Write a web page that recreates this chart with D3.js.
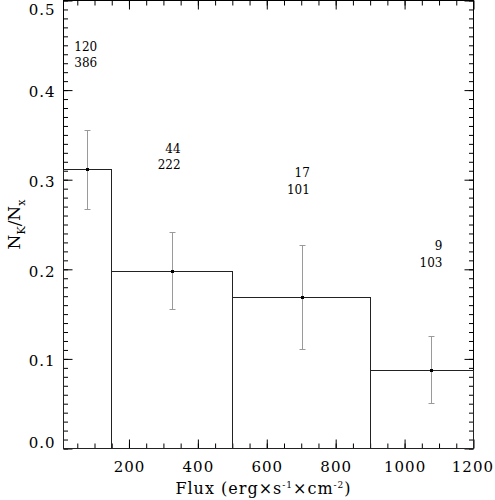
<!DOCTYPE html>
<html>
<head>
<meta charset="utf-8">
<script src="https://cdn.jsdelivr.net/npm/d3@7"></script>
<style>
  body { margin: 0; background: #fff; }
  svg { display: block; }
  .axis text { font-family: "DejaVu Serif", serif; font-size: 15px; letter-spacing: 1px; fill: #000; }
  .axis line { stroke: #000; }
  .axis path { display: none; }
  .lbl { font-family: "DejaVu Serif", serif; fill: #000; }
  .ann { font-family: "DejaVu Serif", serif; font-size: 12px; fill: #000; }
</style>
</head>
<body>
<svg id="chart" width="495" height="500"></svg>
<script>
// histogram bins (flux edges) and fraction N_K/N_x
var binEdges = [10, 150, 500, 900, 1200];
var ratio = [0.311, 0.198, 0.168, 0.087];
// points with error bars
var pointX = [80, 326, 703, 1079];
var errLow = [0.267, 0.155, 0.111, 0.050];
var errHigh = [0.355, 0.241, 0.227, 0.125];
// counts written above each bin
var countK = ["120", "44", "17", "9"];
var countX = ["386", "222", "101", "103"];
var countAtX = [108, 350, 725, 1110];
var countAtY = [0.444, 0.330, 0.303, 0.221];
// axis ticks
var xMajor = [200, 400, 600, 800, 1000, 1200];
var xMinor = d3.range(50, 1200, 50);
var yMajor = [0.0, 0.1, 0.2, 0.3, 0.4, 0.5];
var yMinor = d3.range(0, 51).map(function(i) { return i / 100; });

var svg = d3.select("#chart"),
    margin = {top: 0.5, right: 21.5, bottom: 51.5, left: 63.5},
    width = +svg.attr("width") - margin.left - margin.right,
    height = +svg.attr("height") - margin.top - margin.bottom;

var x = d3.scaleLinear().domain([10, 1200]).range([0, width]);
var y = d3.scaleLinear().domain([0, 0.5]).range([height, 0]);

var g = svg.append("g")
    .attr("transform", "translate(" + margin.left + "," + margin.top + ")");

// ticks on all four sides, pointing in
var xAx = g.append("g").attr("class", "axis")
    .attr("transform", "translate(0," + height + ")")
    .call(d3.axisBottom(x).tickValues(xMajor).tickSize(-9).tickPadding(13).tickFormat(d3.format("d")).tickSizeOuter(0));
g.append("g").attr("class", "axis")
    .attr("transform", "translate(0," + height + ")")
    .call(d3.axisBottom(x).tickValues(xMinor).tickSize(-5).tickFormat("").tickSizeOuter(0));
g.append("g").attr("class", "axis")
    .call(d3.axisTop(x).tickValues(xMajor).tickSize(-9).tickFormat("").tickSizeOuter(0));
g.append("g").attr("class", "axis")
    .call(d3.axisTop(x).tickValues(xMinor).tickSize(-5).tickFormat("").tickSizeOuter(0));

var yAx = g.append("g").attr("class", "axis")
    .call(d3.axisLeft(y).tickValues(yMajor).tickSize(-9).tickPadding(8).tickFormat(d3.format(".1f")).tickSizeOuter(0));
g.append("g").attr("class", "axis")
    .call(d3.axisLeft(y).tickValues(yMinor).tickSize(-4.5).tickFormat("").tickSizeOuter(0));
g.append("g").attr("class", "axis")
    .attr("transform", "translate(" + width + ",0)")
    .call(d3.axisRight(y).tickValues(yMajor).tickSize(-9).tickFormat("").tickSizeOuter(0));
g.append("g").attr("class", "axis")
    .attr("transform", "translate(" + width + ",0)")
    .call(d3.axisRight(y).tickValues(yMinor).tickSize(-4.5).tickFormat("").tickSizeOuter(0));

// end labels nudged inside like the original plot
xAx.selectAll("text").filter(function(d) { return d === 1200; })
    .attr("text-anchor", "end").attr("dx", 20);
yAx.selectAll("text").attr("dy", "0.45em");
yAx.selectAll("text").filter(function(d) { return d === 0.5; }).attr("dy", "0.95em");
yAx.selectAll("text").filter(function(d) { return d === 0; }).attr("dy", "-0.05em");

// frame
g.append("rect")
    .attr("x", 0).attr("y", 0)
    .attr("width", width).attr("height", height)
    .attr("fill", "none").attr("stroke", "#000");

// histogram bars
g.selectAll(".bar")
    .data(ratio)
  .enter().append("rect")
    .attr("class", "bar")
    .attr("x", function(d, i) { return Math.round(x(binEdges[i])); })
    .attr("y", function(d) { return Math.round(y(d)); })
    .attr("width", function(d, i) { return Math.round(x(binEdges[i + 1])) - Math.round(x(binEdges[i])); })
    .attr("height", function(d) { return height - Math.round(y(d)); })
    .attr("fill", "none")
    .attr("stroke", "#222");

// error bars
var eb = g.selectAll(".err")
    .data(ratio)
  .enter().append("g")
    .attr("class", "err")
    .attr("stroke", "#9a9a9a");
eb.append("line")
    .attr("x1", function(d, i) { return Math.round(x(pointX[i])); })
    .attr("x2", function(d, i) { return Math.round(x(pointX[i])); })
    .attr("y1", function(d, i) { return y(errLow[i]); })
    .attr("y2", function(d, i) { return y(errHigh[i]); });
[errLow, errHigh].forEach(function(arr) {
  eb.append("line")
      .attr("x1", function(d, i) { return Math.round(x(pointX[i])) - 3; })
      .attr("x2", function(d, i) { return Math.round(x(pointX[i])) + 3; })
      .attr("y1", function(d, i) { return Math.round(y(arr[i])); })
      .attr("y2", function(d, i) { return Math.round(y(arr[i])); });
});

g.selectAll(".pt")
    .data(ratio)
  .enter().append("rect")
    .attr("class", "pt")
    .attr("x", function(d, i) { return Math.round(x(pointX[i])) - 1.5; })
    .attr("y", function(d) { return Math.round(y(d)) - 1.5; })
    .attr("width", 3).attr("height", 3)
    .attr("fill", "#000");

// counts
var ann = g.selectAll(".ann")
    .data(countK)
  .enter().append("text")
    .attr("class", "ann")
    .attr("text-anchor", "end")
    .attr("x", function(d, i) { return x(countAtX[i]); })
    .attr("y", function(d, i) { return y(countAtY[i]); });
ann.append("tspan").text(function(d) { return d; });
ann.append("tspan")
    .attr("x", function(d, i) { return x(countAtX[i]); })
    .attr("dy", 16.5)
    .text(function(d, i) { return countX[i]; });

// axis titles
var xl = svg.append("text")
    .attr("class", "lbl")
    .attr("x", margin.left + width / 2 - 5)
    .attr("y", 494)
    .attr("text-anchor", "middle")
    .style("font-size", "16px")
    .style("letter-spacing", "1px");
xl.append("tspan").text("Flux (erg×s");
xl.append("tspan").attr("dy", -6).style("font-size", "9px").text("-1");
xl.append("tspan").attr("dy", 6).text("×cm");
xl.append("tspan").attr("dy", -6).style("font-size", "9px").text("-2");
xl.append("tspan").attr("dy", 6).text(")");

var yl = svg.append("text")
    .attr("class", "lbl")
    .attr("transform", "translate(20," + (margin.top + height / 2) + ") rotate(-90)")
    .attr("text-anchor", "middle")
    .style("font-size", "17px");
yl.append("tspan").text("N");
yl.append("tspan").attr("dy", 5).style("font-size", "11px").text("K");
yl.append("tspan").attr("dy", -5).text("/N");
yl.append("tspan").attr("dy", 5).style("font-size", "11px").text("x");
</script>
</body>
</html>
